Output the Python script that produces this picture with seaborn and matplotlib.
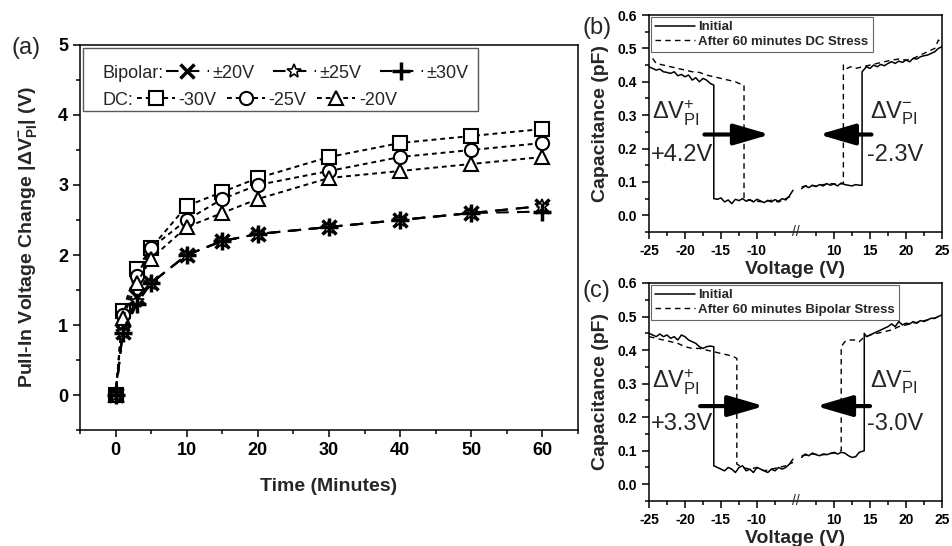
import matplotlib
matplotlib.use("Agg")
import matplotlib.pyplot as plt
import matplotlib.transforms as mtransforms
from matplotlib.patches import Rectangle
from matplotlib.ticker import MultipleLocator, FixedLocator
import seaborn as sns

sns.set_theme(style="ticks")
plt.rcParams["font.family"] = ["Liberation Sans", "DejaVu Sans"]
plt.rcParams["mathtext.default"] = "regular"

# ---------------- panel (a): pull-in voltage shift vs time
time_min = [0, 1, 3, 5, 10, 15, 20, 30, 40, 50, 60]
dc_30v = [0, 1.2, 1.8, 2.1, 2.7, 2.9, 3.1, 3.4, 3.6, 3.7, 3.8]
dc_25v = [0, 1.15, 1.7, 2.1, 2.5, 2.8, 3.0, 3.2, 3.4, 3.5, 3.6]
dc_20v = [0, 1.1, 1.6, 1.95, 2.4, 2.6, 2.8, 3.1, 3.2, 3.3, 3.4]
bi_20v = [0, 0.9, 1.4, 1.6, 2.0, 2.2, 2.3, 2.4, 2.5, 2.6, 2.7]
bi_25v = [0, 0.9, 1.35, 1.6, 2.0, 2.2, 2.3, 2.4, 2.5, 2.6, 2.7]
bi_30v = [0, 0.88, 1.3, 1.6, 2.0, 2.2, 2.3, 2.4, 2.5, 2.6, 2.62]

# ---------------- panels (b), (c): C-V curves (broken voltage axis)
v_init_left = [-25, -24.5, -24, -23.5, -23, -22.5, -22, -21.5, -21, -20.5, -20, -19.5,
               -19, -18.5, -18, -17.5, -17, -16.5, -16, -16, -15.5, -15, -14.5, -14,
               -13.5, -13, -12.5, -12, -11.5, -11, -10.5, -10, -9.5, -9, -8.5, -8,
               -7.5, -7, -6.5, -6, -5.5, -5]
b_init_left = [0.445, 0.44, 0.435, 0.438, 0.43, 0.428, 0.425, 0.43, 0.418, 0.422, 0.415,
               0.42, 0.405, 0.412, 0.40, 0.41, 0.405, 0.395, 0.39, 0.05,
               0.048, 0.052, 0.04, 0.046, 0.035, 0.048, 0.044, 0.05, 0.042, 0.047, 0.04,
               0.048, 0.043, 0.038, 0.045, 0.04, 0.047, 0.042, 0.05, 0.046, 0.058, 0.075]
b_v_init_right = [5.5, 6, 6.5, 7, 7.5, 8, 8.5, 9, 9.5, 10, 10.5, 11, 11.5, 12, 12.5, 13,
                  13.5, 13.9, 13.9, 14.5, 15, 15.5, 16, 16.5, 17, 17.5, 18, 18.5, 19,
                  19.5, 20, 20.5, 21, 21.5, 22, 22.5, 23, 23.5, 24, 24.5, 25]
b_init_right = [0.08, 0.088, 0.083, 0.09, 0.086, 0.092, 0.088, 0.095, 0.09, 0.094, 0.088,
                0.097, 0.092, 0.09, 0.088, 0.092, 0.09, 0.09, 0.43,
                0.445, 0.44, 0.45, 0.445, 0.452, 0.448, 0.455, 0.46, 0.455, 0.462, 0.458,
                0.465, 0.46, 0.47, 0.468, 0.475, 0.478, 0.48, 0.485, 0.49, 0.5, 0.505]
b_v_after_left = [-24.5, -24, -23, -22, -21, -20, -19, -18, -17, -16, -15, -14, -13, -12.5,
                  -11.8, -11.8, -11, -10, -9, -8, -7, -6, -5]
b_after_left = [0.47, 0.455, 0.45, 0.445, 0.44, 0.435, 0.43, 0.428, 0.42, 0.415, 0.41, 0.405,
                0.4, 0.395, 0.39, 0.05, 0.045, 0.042, 0.04, 0.045, 0.04, 0.05, 0.06]
b_v_after_right = [5.5, 6.5, 7.5, 8.5, 9.5, 10.5, 11.3, 11.3, 11.8, 12.3, 13, 14, 15, 16,
                   17, 18, 19, 20, 21, 22, 23, 24, 24.5, 25]
b_after_right = [0.085, 0.09, 0.088, 0.092, 0.095, 0.093, 0.095, 0.45, 0.44, 0.445, 0.44,
                 0.445, 0.45, 0.455, 0.46, 0.465, 0.468, 0.465, 0.47, 0.48, 0.49, 0.5,
                 0.525, 0.515]

c_init_left = [0.45, 0.445, 0.44, 0.448, 0.44, 0.445, 0.435, 0.44, 0.43, 0.445, 0.44, 0.43,
               0.425, 0.42, 0.41, 0.405, 0.41, 0.412, 0.41, 0.055,
               0.05, 0.045, 0.04, 0.05, 0.045, 0.035, 0.05, 0.055, 0.04, 0.045, 0.035,
               0.05, 0.045, 0.04, 0.035, 0.045, 0.04, 0.05, 0.045, 0.05, 0.06, 0.075]
c_v_init_right = [5.5, 6, 6.5, 7, 7.5, 8, 8.5, 9, 9.5, 10, 10.5, 11, 11.5, 12, 12.5, 13,
                  13.5, 14.2, 14.2, 14.5, 15, 15.5, 16, 16.5, 17, 17.5, 18, 18.5, 19,
                  19.5, 20, 20.5, 21, 21.5, 22, 22.5, 23, 23.5, 24, 24.5, 25]
c_init_right = [0.08, 0.09, 0.085, 0.093, 0.088, 0.085, 0.09, 0.088, 0.092, 0.095, 0.09,
                0.095, 0.093, 0.085, 0.08, 0.082, 0.095, 0.1, 0.45,
                0.44, 0.445, 0.45, 0.455, 0.46, 0.465, 0.47, 0.478, 0.47, 0.485, 0.475,
                0.48, 0.478, 0.485, 0.48, 0.488, 0.485, 0.49, 0.495, 0.495, 0.5, 0.505]
c_v_after_left = [-25, -24, -23, -22, -21, -20, -19, -18, -17, -16, -15, -14, -13.2, -12.8,
                  -12.8, -12, -11, -10, -9, -8, -7, -6, -5]
c_after_left = [0.44, 0.435, 0.43, 0.425, 0.42, 0.41, 0.405, 0.405, 0.4, 0.395, 0.39, 0.385,
                0.38, 0.375, 0.06, 0.05, 0.045, 0.05, 0.04, 0.045, 0.05, 0.055, 0.065]
c_v_after_right = [5.5, 7, 8.5, 10, 11, 11, 11.5, 12, 13, 13.5, 14, 15, 16, 17, 18, 19, 20,
                   21, 22, 23, 24, 25]
c_after_right = [0.085, 0.09, 0.088, 0.093, 0.1, 0.41, 0.425, 0.43, 0.43, 0.425, 0.435, 0.445,
                 0.45, 0.455, 0.46, 0.47, 0.475, 0.48, 0.485, 0.49, 0.495, 0.505]

cv_ticks = [-25, -20, -15, -10, 10, 15, 20, 25]
cv_minor = [-22.5, -17.5, -12.5, -7.5, 7.5, 12.5, 17.5, 22.5]

GAP = 9.3  # voltage removed by the axis break


def brk(vals):
    return [v if v < 0 else v - GAP for v in vals]


fig = plt.figure(figsize=(9.53, 5.46), dpi=100)
ax_a = fig.add_axes([80 / 953, 116 / 546, 498 / 953, 385 / 546])
ax_b = fig.add_axes([649 / 953, 314 / 546, 293 / 953, 217 / 546])
ax_c = fig.add_axes([649 / 953, 45 / 546, 293 / 953, 218 / 546])


def line(ax, x, y, **kw):
    sns.lineplot(x=x, y=y, ax=ax, color="black", estimator=None, sort=False,
                 markeredgecolor="black", legend=False, **kw)
    return ax.lines[-1]


# ---- panel (a)
dc_style = dict(linestyle=(0, (2.5, 2)), linewidth=1.4, markerfacecolor="white",
                markeredgewidth=1.5, markersize=9.5)
bi_style = dict(linestyle=(0, (6, 4)), linewidth=1.5)

h_sq = line(ax_a, time_min, dc_30v, marker="s", **dc_style)
h_ci = line(ax_a, time_min, dc_25v, marker="o", **dc_style)
h_tr = line(ax_a, time_min, dc_20v, marker="^", **{**dc_style, "markersize": 10.5})
h_x = line(ax_a, time_min, bi_20v, marker="x", markersize=10, markeredgewidth=2.5, **bi_style)
h_st = line(ax_a, time_min, bi_25v, marker="*", markersize=10, markeredgewidth=1.2,
            markerfacecolor="white", **bi_style)
h_pl = line(ax_a, time_min, bi_30v, marker="+", markersize=13, markeredgewidth=2.5, **bi_style)

ax_a.set_xlim(-5, 65)
ax_a.set_ylim(-0.5, 5)
ax_a.xaxis.set_major_locator(MultipleLocator(10))
ax_a.xaxis.set_minor_locator(MultipleLocator(5))
ax_a.yaxis.set_major_locator(MultipleLocator(1))
ax_a.yaxis.set_minor_locator(MultipleLocator(0.5))
ax_a.set_xticks([0, 10, 20, 30, 40, 50, 60])
ax_a.set_xlabel("Time (Minutes)", fontsize=14, fontweight="bold", labelpad=14)
ax_a.set_ylabel("Pull-In Voltage Change |ΔV$^{-}_{PI}$| (V)", fontsize=14,
                fontweight="bold", labelpad=14)

# legend: two independent rows inside one frame
ax_a.add_patch(Rectangle((0.006, 0.828), 0.793, 0.164, transform=ax_a.transAxes,
                         fill=False, edgecolor="0.35", linewidth=1.0, zorder=5))
ax_a.text(0.046, 0.927, "Bipolar:", transform=ax_a.transAxes, va="center", fontsize=13)
ax_a.text(0.046, 0.857, "DC:", transform=ax_a.transAxes, va="center", fontsize=13)
leg1 = ax_a.legend([h_x, h_st, h_pl], ["±20V", "±25V", "±30V"], loc="center left",
                   bbox_to_anchor=(0.172, 0.927), ncol=3, fontsize=13, handlelength=2.4,
                   handletextpad=0.2, columnspacing=1.0, borderpad=0, borderaxespad=0,
                   frameon=False)
ax_a.add_artist(leg1)
leg2 = ax_a.legend([h_sq, h_ci, h_tr], ["-30V", "-25V", "-20V"], loc="center left",
                   bbox_to_anchor=(0.114, 0.857), ncol=3, fontsize=13, handlelength=2.1,
                   handletextpad=0.2, columnspacing=0.6, borderpad=0, borderaxespad=0,
                   frameon=False)


# ---- panels (b) and (c)
def cv_panel(ax, init_l, v_init_r, init_r, v_aft_l, aft_l, v_aft_r, aft_r, stress,
             plus_txt, minus_txt, arr_l, arr_r):
    solid = dict(linestyle="-", linewidth=1.1)
    dash = dict(linestyle=(0, (4, 3)), linewidth=1.0)
    h_init = line(ax, brk(v_init_left), init_l, **solid)
    line(ax, brk(v_init_r), init_r, **solid)
    h_aft = line(ax, brk(v_aft_l), aft_l, **dash)
    line(ax, brk(v_aft_r), aft_r, **dash)

    ax.set_xlim(-25, 25 - GAP)
    ax.set_ylim(-0.05, 0.6)
    ax.xaxis.set_major_locator(FixedLocator(brk(cv_ticks)))
    ax.set_xticklabels([str(t) for t in cv_ticks])
    ax.xaxis.set_minor_locator(FixedLocator(brk(cv_minor)))
    ax.yaxis.set_major_locator(MultipleLocator(0.1))
    ax.yaxis.set_minor_locator(MultipleLocator(0.05))
    ax.yaxis.set_major_formatter(plt.FormatStrFormatter("%.1f"))
    ax.set_xlabel("Voltage (V)", fontsize=14, fontweight="bold", labelpad=2)
    ax.set_ylabel("Capacitance (pF)", fontsize=14, fontweight="bold", labelpad=6)

    trans = mtransforms.blended_transform_factory(ax.transData, ax.transAxes)
    ax.text(-4.65, 0.0, "//", transform=trans, ha="center", va="center", fontsize=10)

    lg = ax.legend([h_init, h_aft], ["Initial", f"After 60 minutes {stress} Stress"],
                   loc="upper left", prop=dict(weight="bold", size=9.5),
                   handlelength=3.0, handletextpad=0.3, borderpad=0.3,
                   labelspacing=0.2, fancybox=False, edgecolor="0.4", framealpha=1,
                   borderaxespad=0.15)
    lg.get_frame().set_linewidth(0.8)

    ax.text(brk([-24.6])[0], 0.305, "ΔV$^{+}_{PI}$", fontsize=17, va="center")
    ax.text(brk([-24.8])[0], 0.18, plus_txt, fontsize=17, va="center")
    ax.text(brk([15.0])[0], 0.305, "ΔV$^{-}_{PI}$", fontsize=17, va="center")
    ax.text(brk([14.6])[0], 0.18, minus_txt, fontsize=17, va="center")

    aprops = dict(arrowstyle="-|>,head_length=1.1,head_width=0.32", lw=3,
                  color="black", mutation_scale=20, shrinkA=0, shrinkB=0)
    ax.annotate("", xy=(brk([arr_l[1]])[0], arr_l[2]), xytext=(brk([arr_l[0]])[0], arr_l[2]),
                arrowprops=aprops)
    ax.annotate("", xy=(brk([arr_r[1]])[0], arr_r[2]), xytext=(brk([arr_r[0]])[0], arr_r[2]),
                arrowprops=aprops)


cv_panel(ax_b, b_init_left, b_v_init_right, b_init_right, b_v_after_left, b_after_left,
         b_v_after_right, b_after_right, "DC", "+4.2V", "-2.3V",
         (-17.3, -8.2, 0.242), (15.2, 7.9, 0.242))
cv_panel(ax_c, c_init_left, c_v_init_right, c_init_right, c_v_after_left, c_after_left,
         c_v_after_right, c_after_right, "Bipolar", "+3.3V", "-3.0V",
         (-17.9, -9.0, 0.233), (15.0, 7.5, 0.233))

for ax, lsize in [(ax_a, 13), (ax_b, 10), (ax_c, 10)]:
    ax.tick_params(which="both", direction="out", top=False, right=False,
                   labelsize=lsize, width=1.1, colors="black")
    ax.tick_params(which="major", length=5)
    ax.tick_params(which="minor", length=3)
    for lab in ax.get_xticklabels() + ax.get_yticklabels():
        lab.set_fontweight("bold")
    for sp in ax.spines.values():
        sp.set_visible(True)
        sp.set_linewidth(1.1)
        sp.set_color("black")

fig.text(12 / 953, 1 - 48 / 546, "(a)", fontsize=17, va="center", ha="left")
fig.text(583 / 953, 1 - 28 / 546, "(b)", fontsize=17, va="center", ha="left")
fig.text(583 / 953, 1 - 291 / 546, "(c)", fontsize=17, va="center", ha="left")

fig.savefig("out.png", dpi=100, facecolor="white")
